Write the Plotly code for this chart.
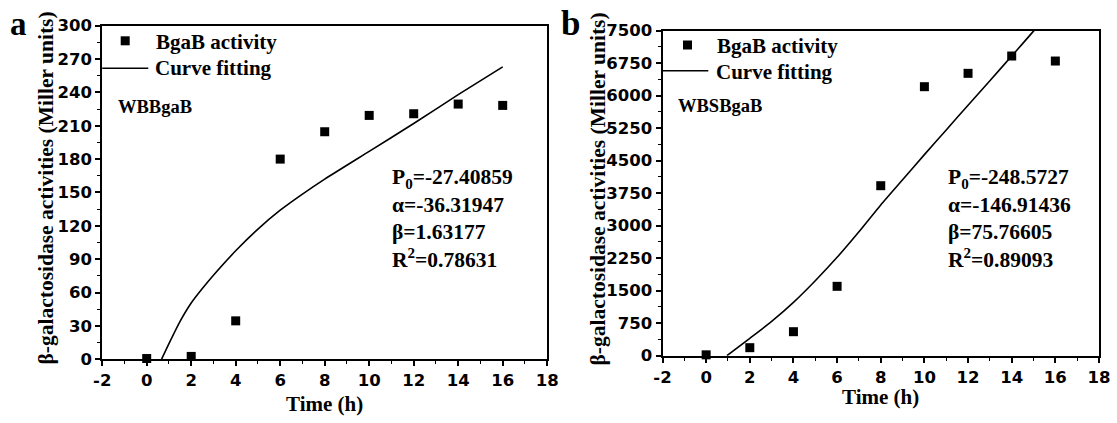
import plotly.graph_objects as go

W, H = 1117, 423

# ---------------- data ----------------
time_a = [0, 2, 4, 6, 8, 10, 12, 14, 16]
activity_a = [0.6, 2.5, 34.5, 180, 204.6, 219.3, 220.8, 229.5, 228.3]
fit_time_a = [0.67, 1, 1.5, 2, 2.5, 3, 4, 5, 6, 7, 8, 10, 12, 14, 16]
fit_val_a = [0, 14, 34, 50.5, 63.5, 75.5, 97.5, 117, 134, 148.5, 162, 187, 212, 238, 263]

time_b = [0, 2, 4, 6, 8, 10, 12, 14, 16]
activity_b = [20, 185, 554, 1601, 3923, 6208, 6516, 6916, 6800]
fit_time_b = [0.95, 2, 3, 4, 5, 6, 7, 8, 9, 10, 11, 12, 13, 14, 15, 15.5]
fit_val_b = [0, 400, 790, 1230, 1730, 2270, 2860, 3480, 4060, 4640, 5210, 5780, 6345, 6915, 7490, 7780]

yticks_a = list(range(0, 301, 30))
yticks_b = list(range(0, 7501, 750))
xticks = list(range(-2, 19, 2))
xtick_labels = ["-2", "0", "2", "4", "6", "8", "10", "12", "14", "16", "18"]

params_a = ["P<sub>0</sub>=-27.40859", "α=-36.31947", "β=1.63177", "R<sup>2</sup>=0.78631"]
params_b = ["P<sub>0</sub>=-248.5727", "α=-146.91436", "β=75.76605", "R<sup>2</sup>=0.89093"]

# ---------------- layout helpers ----------------
def px_x(p):
    return p / W

def px_y(p):
    return 1 - p / H

SERIF = "Liberation Serif"
SANS = "DejaVu Sans"

fig = go.Figure()

for xs, ys, fx, fy, xa, ya in [
    (time_a, activity_a, fit_time_a, fit_val_a, "x", "y"),
    (time_b, activity_b, fit_time_b, fit_val_b, "x2", "y2"),
]:
    fig.add_trace(go.Scatter(x=fx, y=fy, mode="lines",
                             line=dict(color="black", width=1.6, shape="spline", smoothing=0.6),
                             xaxis=xa, yaxis=ya, showlegend=False, hoverinfo="skip"))
    fig.add_trace(go.Scatter(x=xs, y=ys, mode="markers",
                             marker=dict(symbol="square", size=9, color="black"),
                             xaxis=xa, yaxis=ya, showlegend=False, cliponaxis=False))

axis_common = dict(
    showline=True, linecolor="black", linewidth=2, mirror=True,
    ticks="outside", ticklen=5, tickwidth=1.5, tickcolor="black",
    showgrid=False, zeroline=False, automargin=False,
    tickfont=dict(family=SANS, size=16.5, color="black", weight="bold"),
)

dom_a_x = [px_x(102.2), px_x(547.2)]
dom_a_y = [px_y(359.2), px_y(25.7)]
dom_b_x = [px_x(662.5), px_x(1099)]
dom_b_y = [px_y(355.7), px_y(30.7)]

def minor(d, t0):
    return dict(dtick=d, tick0=t0, ticks="outside", ticklen=3, tickwidth=1.2, tickcolor="black")

fig.update_layout(
    width=W, height=H, margin=dict(l=0, r=0, t=0, b=0, autoexpand=False),
    paper_bgcolor="white", plot_bgcolor="white",
    xaxis=dict(domain=dom_a_x, anchor="y", range=[-2, 18], tickvals=xticks, ticktext=xtick_labels,
               minor=minor(1, -2), **axis_common),
    yaxis=dict(domain=dom_a_y, anchor="x", range=[0, 300], tickvals=yticks_a,
               minor=minor(15, 0), **axis_common),
    xaxis2=dict(domain=dom_b_x, anchor="y2", range=[-2, 18], tickvals=xticks, ticktext=xtick_labels,
                minor=minor(1, -2), **axis_common),
    yaxis2=dict(domain=dom_b_y, anchor="x2", range=[0, 7500], tickvals=yticks_b,
                minor=minor(375, 0), **axis_common),
)

ann = []
def text(x, y, s, size, xanchor="left", yanchor="middle", angle=0, family=SERIF):
    ann.append(dict(x=px_x(x), y=px_y(y), xref="paper", yref="paper", text=s,
                    showarrow=False, xanchor=xanchor, yanchor=yanchor, textangle=angle,
                    font=dict(family=family, size=size, color="black", weight="bold")))

# panel letters
text(19, 24, "a", 33, xanchor="center")
text(570, 24, "b", 35, xanchor="center")

# axis titles
text(324.7, 404.3, "Time (h)", 21, xanchor="center")
text(880.7, 396.7, "Time (h)", 21, xanchor="center")
ytitle = "β-galactosidase activities (Miller units)"
text(45, 188.5, ytitle, 21.5, xanchor="center", angle=-90)
text(597.5, 189, ytitle, 21.5, xanchor="center", angle=-90)

# legends
text(154, 41.7, "BgaB activity", 21)
text(153, 68.3, "Curve fitting", 21)
text(715.3, 45.7, "BgaB activity", 21)
text(713.7, 71.7, "Curve fitting", 21)
text(116.3, 106.7, "WBBgaB", 18.5)
text(676.3, 106, "WBSBgaB", 18.5)

# parameters
for i, s in enumerate(params_a):
    text(389.7, [178.3, 205, 231.7, 258.3][i], s, 21.5)
for i, s in enumerate(params_b):
    text(946.3, [178.3, 205, 231.7, 258.3][i], s, 21.5)

fig.update_layout(annotations=ann)

shapes = []
def sq(cx, cy, s=9):
    shapes.append(dict(type="rect", xref="paper", yref="paper",
                       x0=px_x(cx - s / 2), x1=px_x(cx + s / 2),
                       y0=px_y(cy + s / 2), y1=px_y(cy - s / 2),
                       fillcolor="black", line=dict(width=0)))
def hline(x0, x1, y):
    shapes.append(dict(type="line", xref="paper", yref="paper",
                       x0=px_x(x0), x1=px_x(x1), y0=px_y(y), y1=px_y(y),
                       line=dict(color="black", width=1.6)))

sq(125.2, 40.8)
sq(687.5, 45)
hline(102.2, 148.3, 68.3)
hline(662.5, 708.3, 70.7)
fig.update_layout(shapes=shapes)

fig.write_html("out.html")
